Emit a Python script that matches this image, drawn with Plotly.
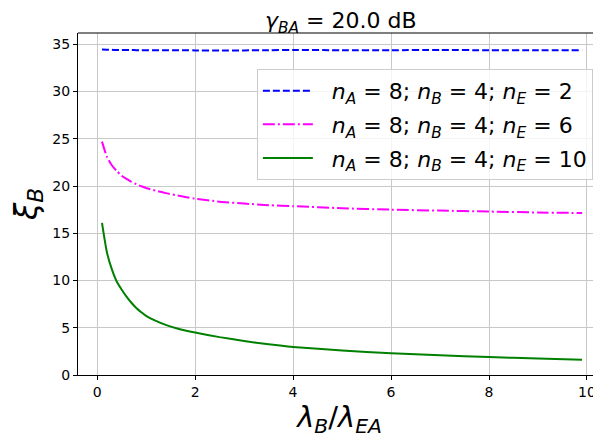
import plotly.graph_objects as go

x_vals = [0.1, 0.2, 0.3, 0.4, 0.5, 0.6, 0.7, 0.8, 0.9, 1.0, 1.2, 1.4, 1.6, 1.8, 2.0, 2.5, 3.0, 3.5, 4.0, 5.0, 6.0, 7.0, 8.0, 9.0, 9.9]
xi_nE2 = [34.45, 34.43, 34.42, 34.4, 34.4, 34.4, 34.4, 34.38, 34.38, 34.38, 34.38, 34.38, 34.37, 34.37, 34.36, 34.36, 34.36, 34.38, 34.4, 34.38, 34.38, 34.4, 34.38, 34.38, 34.38]
xi_nE6 = [24.7, 23.1, 22.2, 21.6, 21.1, 20.75, 20.45, 20.2, 19.98, 19.8, 19.5, 19.25, 19.05, 18.85, 18.66, 18.35, 18.15, 17.98, 17.87, 17.65, 17.5, 17.4, 17.3, 17.2, 17.15]
xi_nE10 = [16.1, 13.0, 11.2, 9.9, 9.05, 8.3, 7.65, 7.1, 6.65, 6.25, 5.72, 5.3, 4.98, 4.72, 4.5, 4.01, 3.6, 3.25, 2.97, 2.6, 2.3, 2.08, 1.9, 1.74, 1.62]

names = ["&nbsp;&nbsp;<i>n<sub>A</sub></i> = 8; <i>n<sub>B</sub></i> = 4; <i>n<sub>E</sub></i> = 2",
         "&nbsp;&nbsp;<i>n<sub>A</sub></i> = 8; <i>n<sub>B</sub></i> = 4; <i>n<sub>E</sub></i> = 6",
         "&nbsp;&nbsp;<i>n<sub>A</sub></i> = 8; <i>n<sub>B</sub></i> = 4; <i>n<sub>E</sub></i> = 10"]
x_ticks = [0, 2, 4, 6, 8, 10]
y_ticks = [0, 5, 10, 15, 20, 25, 30, 35]

fig = go.Figure()
fig.add_trace(go.Scatter(x=x_vals, y=xi_nE2, mode="lines", name=names[0], legendgroup="g1",
                         line=dict(color="#0000ff", width=2, dash="7px,3px", shape="spline", smoothing=0.6)))
fig.add_trace(go.Scatter(x=x_vals, y=xi_nE6, mode="lines", name=names[1], legendgroup="g2",
                         line=dict(color="#ff00ff", width=2, dash="12px,3px,2px,3px", shape="spline", smoothing=0.6)))
fig.add_trace(go.Scatter(x=x_vals, y=xi_nE10, mode="lines", name=names[2], legendgroup="g3",
                         line=dict(color="#008000", width=2, shape="spline", smoothing=0.6)))

# page body adds an 8px offset; figure sized to fill the 601x439 window
W, H = 593, 431
L, T, B = 70, 25, 64
font_family = "DejaVu Sans"
fig.update_layout(
    width=W, height=H, autosize=False,
    margin=dict(l=L, r=0, t=T, b=B, autoexpand=False),
    plot_bgcolor="white", paper_bgcolor="white",
    font=dict(family=font_family, color="black", size=14),
    showlegend=True,
    legend=dict(x=0.342, y=0.895, xanchor="left", yanchor="top",
                bgcolor="rgba(255,255,255,0.8)", bordercolor="#cccccc", borderwidth=1,
                font=dict(size=22, family=font_family), itemwidth=50,
                tracegroupgap=2),
    xaxis=dict(range=[-0.39, 10.286], tickvals=x_ticks, ticks="outside", ticklen=4,
               tickcolor="black", showline=True, linecolor="black", linewidth=1.2,
               showgrid=True, gridcolor="#c8c8c8", gridwidth=1, zeroline=False,
               tickfont=dict(size=14), automargin=False,
               title=dict(text="<i>λ<sub>B</sub></i>/<i>λ<sub>EA</sub></i>", font=dict(size=29), standoff=4)),
    yaxis=dict(range=[0, 36.2], tickvals=y_ticks, ticks="outside", ticklen=4,
               tickcolor="black", showline=True, linecolor="black", linewidth=1.2,
               showgrid=True, gridcolor="#c8c8c8", gridwidth=1, zeroline=False,
               tickfont=dict(size=14), automargin=False,
               title=dict(text="<i>ξ<sub>B</sub></i>", font=dict(size=31), standoff=8)),
)
fig.add_annotation(text="<i>γ<sub>BA</sub></i> = 20.0 dB", xref="paper", yref="paper",
                   x=(341 - 78) / 523, y=1, yshift=-6, xanchor="center", yanchor="bottom",
                   showarrow=False, font=dict(size=22, family=font_family))
fig.add_shape(type="line", xref="paper", yref="paper", x0=0, x1=1, y0=1, y1=1,
              line=dict(color="black", width=1.2))

fig.write_html("out.html")
